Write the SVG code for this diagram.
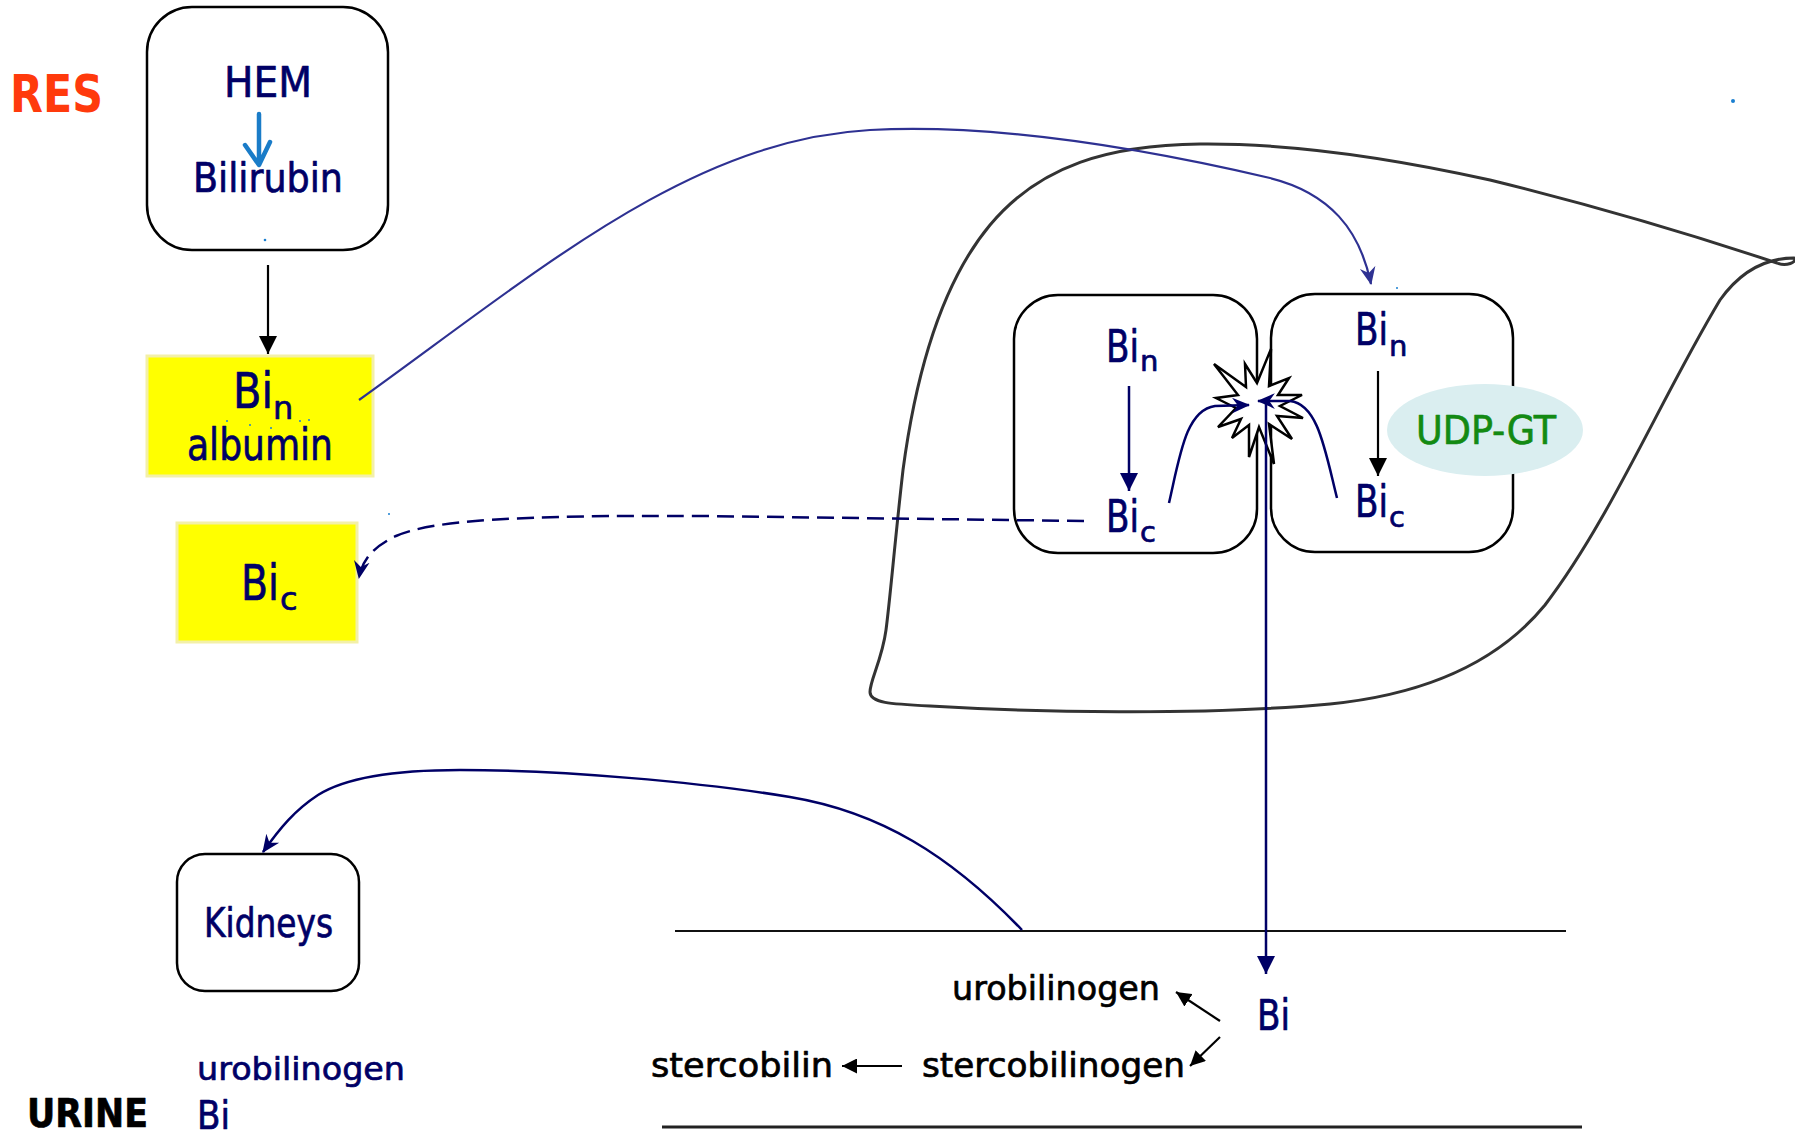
<svg xmlns="http://www.w3.org/2000/svg" width="1795" height="1134" viewBox="0 0 1795 1134">
  <defs>
    <style>
      .t { font-family: "DejaVu Sans", "Noto Sans", sans-serif; stroke-width: 0.7; stroke-linejoin: round; }
      .navy { fill: #000066; stroke: #000066; }
      .blk { fill: #000000; stroke: #000000; }
      .box { fill: #ffffff; stroke: #000000; stroke-width: 2.5; }
      .yel { fill: #ffff00; stroke: #f3f0a8; stroke-width: 3; }
      .ln-navy { fill: none; stroke: #000066; stroke-width: 2.5; }
      .ln-blk { fill: none; stroke: #000000; stroke-width: 2.2; }
      .ln-blue { fill: none; stroke: #2e3192; stroke-width: 2.2; }
      .dot { fill: #1a7fd0; }
    </style>
    <marker id="triNavy" markerUnits="userSpaceOnUse" markerWidth="18" markerHeight="18" viewBox="0 0 16 16" refX="16" refY="8" orient="auto">
      <path d="M0,0 L16,8 L0,16 z" fill="#000066"/>
    </marker>
    <marker id="triBlk" markerUnits="userSpaceOnUse" markerWidth="18" markerHeight="18" viewBox="0 0 16 16" refX="16" refY="8" orient="auto">
      <path d="M0,0 L16,8 L0,16 z" fill="#000000"/>
    </marker>
    <marker id="triBlkS" markerUnits="userSpaceOnUse" markerWidth="15" markerHeight="15" viewBox="0 0 16 16" refX="16" refY="8" orient="auto">
      <path d="M0,0 L16,8 L0,16 z" fill="#000000"/>
    </marker>
    <marker id="stNavy" markerUnits="userSpaceOnUse" markerWidth="18" markerHeight="18" viewBox="0 0 16 16" refX="15" refY="8" orient="auto">
      <path d="M0,1 L16,8 L0,15 L5,8 z" fill="#000066"/>
    </marker>
    <marker id="stBlue" markerUnits="userSpaceOnUse" markerWidth="18" markerHeight="18" viewBox="0 0 16 16" refX="15" refY="8" orient="auto">
      <path d="M0,1 L16,8 L0,15 L5,8 z" fill="#2e3192"/>
    </marker>
  </defs>

  <rect width="1795" height="1134" fill="#ffffff"/>

  <!-- liver outline -->
  <path id="liver" d="M1777,263 C1720,244 1620,212 1490,180 C1400,160 1300,143 1200,144 C1110,145 1040,165 990,225 C940,285 915,380 903,470 C895,540 890,600 886,630 C882,660 870,680 870,692 C870,703 890,704 930,706 C1030,712 1200,716 1330,704 C1430,694 1500,660 1545,605 C1610,520 1660,400 1720,300 C1740,272 1765,258 1794,258 C1798,262 1786,267 1777,263" fill="none" stroke="#333333" stroke-width="3"/>

  <!-- intestine walls -->
  <line x1="675" y1="931" x2="1566" y2="931" stroke="#111111" stroke-width="2"/>
  <line x1="662" y1="1127" x2="1582" y2="1127" stroke="#222222" stroke-width="3"/>

  <text class="t" x="10" y="112" font-size="51" font-weight="bold" fill="#ff3a0c" textLength="93" lengthAdjust="spacingAndGlyphs">RES</text>

  <g id="res-box">
    <rect class="box" x="147" y="7" width="241" height="243" rx="45"/>
    <text class="t navy" x="224" y="97" font-size="43" textLength="88" lengthAdjust="spacingAndGlyphs">HEM</text>
    <path d="M259,114 V163 M245,145 L259,165 L270,142" fill="none" stroke="#1a7cc8" stroke-width="4.5" stroke-linecap="round" stroke-linejoin="round"/>
    <text class="t navy" x="193" y="192" font-size="40" textLength="150" lengthAdjust="spacingAndGlyphs">Bilirubin</text>
    <circle class="dot" cx="265" cy="240" r="1.3"/>
  </g>

  <g id="bin-albumin">
    <rect class="yel" x="147" y="356" width="226" height="120"/>
    <text class="t navy" font-size="50"><tspan x="233" y="408" textLength="40" lengthAdjust="spacingAndGlyphs">Bi</tspan><tspan x="273" y="419" font-size="32">n</tspan></text>
    <text class="t navy" x="187" y="460" font-size="44" textLength="146" lengthAdjust="spacingAndGlyphs">albumin</text>
    <circle class="dot" cx="227" cy="421" r="1"/>
    <circle class="dot" cx="250" cy="425" r="1"/>
    <circle class="dot" cx="271" cy="428" r="1"/>
    <circle class="dot" cx="300" cy="421" r="1"/>
    <circle class="dot" cx="309" cy="420" r="1"/>
  </g>

  <g id="bic-blood">
    <rect class="yel" x="177" y="523" width="180" height="119"/>
    <text class="t navy" font-size="50"><tspan x="241" y="600" textLength="38" lengthAdjust="spacingAndGlyphs">Bi</tspan><tspan x="280" y="610" font-size="32">c</tspan></text>
  </g>

  <g id="cell-left">
    <rect class="box" x="1014" y="295" width="243" height="258" rx="44"/>
    <text class="t navy" font-size="44"><tspan x="1106" y="362" textLength="33" lengthAdjust="spacingAndGlyphs">Bi</tspan><tspan x="1140" y="371" font-size="29">n</tspan></text>
    <text class="t navy" font-size="44"><tspan x="1106" y="532" textLength="33" lengthAdjust="spacingAndGlyphs">Bi</tspan><tspan x="1140" y="542" font-size="29">c</tspan></text>
  </g>

  <g id="cell-right">
    <rect class="box" x="1271" y="294" width="242" height="258" rx="44"/>
    <text class="t navy" font-size="44"><tspan x="1355" y="345" textLength="33" lengthAdjust="spacingAndGlyphs">Bi</tspan><tspan x="1389" y="356" font-size="29">n</tspan></text>
    <text class="t navy" font-size="44"><tspan x="1355" y="517" textLength="33" lengthAdjust="spacingAndGlyphs">Bi</tspan><tspan x="1389" y="527" font-size="29">c</tspan></text>
    <circle class="dot" cx="1397" cy="288" r="1"/>
  </g>

  <g id="udp-gt">
    <ellipse cx="1485" cy="430" rx="98" ry="46" fill="#daeef0"/>
    <text class="t" x="1416" y="444" font-size="39" fill="#138a13" stroke="#138a13" textLength="140" lengthAdjust="spacingAndGlyphs">UDP-GT</text>
  </g>

  <g id="canaliculus">
    <polygon points="1271,349 1269,386 1289,378 1278,395 1302,395 1280,406 1303,418 1277,416 1292,439 1269,424 1274,464 1259,427 1249,457 1249,425 1232,438 1241,419 1218,427 1236,408 1216,398 1238,395 1214,364 1246,387 1245,364 1257,383" fill="#ffffff" stroke="#000000" stroke-width="2.5" stroke-linejoin="miter"/>
  </g>

  <g id="kidneys">
    <rect class="box" x="177" y="854" width="182" height="137" rx="28"/>
    <text class="t navy" x="204" y="937" font-size="40" textLength="129" lengthAdjust="spacingAndGlyphs">Kidneys</text>
  </g>

  <g id="intestine">
    <text class="t navy" x="1257" y="1030" font-size="42" textLength="33" lengthAdjust="spacingAndGlyphs">Bi</text>
    <text class="t blk" x="952" y="1000" font-size="34" textLength="208" lengthAdjust="spacingAndGlyphs">urobilinogen</text>
    <text class="t blk" x="922" y="1077" font-size="34" textLength="263" lengthAdjust="spacingAndGlyphs">stercobilinogen</text>
    <text class="t blk" x="651" y="1077" font-size="34" textLength="182" lengthAdjust="spacingAndGlyphs">stercobilin</text>
  </g>

  <g id="urine">
    <text class="t blk" x="27" y="1127" font-size="39" font-weight="bold" textLength="121" lengthAdjust="spacingAndGlyphs">URINE</text>
    <text class="t navy" x="197" y="1080" font-size="32" textLength="208" lengthAdjust="spacingAndGlyphs">urobilinogen</text>
    <text class="t navy" x="197" y="1129" font-size="39" textLength="33" lengthAdjust="spacingAndGlyphs">Bi</text>
  </g>

  <g id="connectors">
    <!-- heme breakdown product to plasma -->
    <line class="ln-blk" x1="268" y1="265" x2="268" y2="354" marker-end="url(#triBlk)"/>
    <!-- plasma transport to hepatocyte -->
    <path class="ln-blue" d="M359,400 C540,270 690,140 870,130 C1000,123 1150,150 1270,178 C1330,193 1360,230 1371,284" marker-end="url(#stBlue)"/>
    <!-- conjugated reflux to blood -->
    <path class="ln-navy" d="M1084,521 L700,516 C520,515 432,520 396,536 C373,547 362,560 359,578" stroke-dasharray="17 8" marker-end="url(#stNavy)"/>
    <!-- conjugation in each cell -->
    <line class="ln-navy" x1="1129" y1="386" x2="1129" y2="491" marker-end="url(#triNavy)"/>
    <line class="ln-blk" x1="1378" y1="371" x2="1378" y2="476" marker-end="url(#triBlk)"/>
    <!-- secretion into canaliculus -->
    <path class="ln-navy" d="M1169,503 C1180,455 1186,410 1215,406 L1249,405" marker-end="url(#stNavy)"/>
    <path class="ln-navy" d="M1337,498 C1325,450 1318,404 1290,401 L1258,401" marker-end="url(#stNavy)"/>
    <!-- bile flow to intestine -->
    <line class="ln-navy" x1="1266" y1="398" x2="1266" y2="974" marker-end="url(#triNavy)"/>
    <!-- reabsorption to kidneys -->
    <path class="ln-navy" d="M1022,930 C950,855 880,812 790,797 C700,782 560,770 460,770 C390,770 345,778 318,795 C295,810 280,828 263,852" marker-end="url(#stNavy)"/>
    <!-- intestinal conversion -->
    <line class="ln-blk" x1="1220" y1="1021" x2="1176" y2="992" marker-end="url(#triBlkS)"/>
    <line class="ln-blk" x1="1220" y1="1037" x2="1190" y2="1066" marker-end="url(#triBlkS)"/>
    <line class="ln-blk" x1="902" y1="1066" x2="842" y2="1066" marker-end="url(#triBlkS)"/>
  </g>

  <circle class="dot" cx="1733" cy="101" r="2"/>
  <circle class="dot" cx="389" cy="514" r="1"/>
</svg>
